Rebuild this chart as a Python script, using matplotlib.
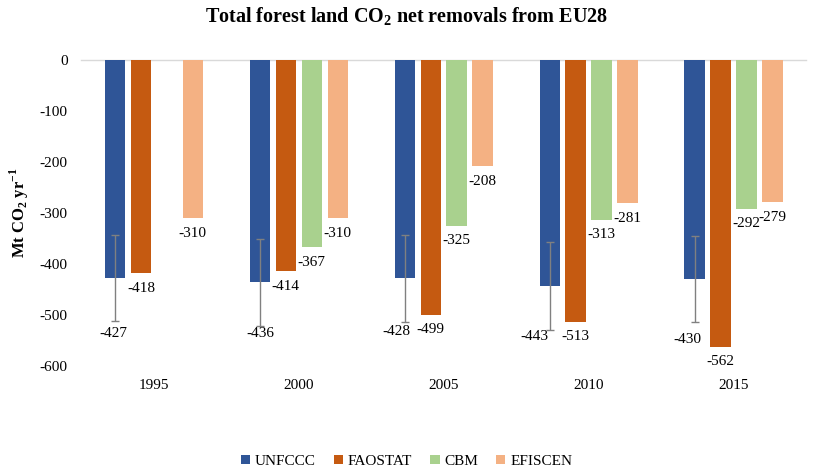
import matplotlib.pyplot as plt
import numpy as np

# data (Mt CO2 / yr)
years = ['1995', '2000', '2005', '2010', '2015']
unfccc = [-427, -436, -428, -443, -430]
faostat = [-418, -414, -499, -513, -562]
cbm = [np.nan, -367, -325, -313, -292]
efiscen = [-310, -310, -208, -281, -279]
unfccc_err = [84, 85, 85, 86, 84]

series_names = ['UNFCCC', 'FAOSTAT', 'CBM', 'EFISCEN']
colors = ['#2F5597', '#C55A11', '#A9D18E', '#F4B183']

plt.rcParams['font.family'] = ['Liberation Serif', 'DejaVu Serif']
plt.rcParams['axes.unicode_minus'] = False
plt.rcParams['mathtext.fontset'] = 'custom'
plt.rcParams['mathtext.rm'] = 'Liberation Serif'
plt.rcParams['mathtext.bf'] = 'Liberation Serif:bold'

fig = plt.figure(figsize=(8.13, 4.73), dpi=100, facecolor='white')
ax = fig.add_axes([0.1002, 0.2262, 0.8912, 0.6469])

x = np.arange(len(years))
width = 0.141
pitch = 0.179
all_series = [unfccc, faostat, cbm, efiscen]

PX = 0.72  # points per pixel at 100 dpi

for i, (vals, name, col) in enumerate(zip(all_series, series_names, colors)):
    pos = x + (i - 1.5) * pitch
    ax.bar(pos, vals, width=width, color=col, label=name, zorder=3)
    if i == 0:
        ax.errorbar(pos, vals, yerr=unfccc_err, fmt='none', ecolor='#808080',
                    elinewidth=1, capsize=3, capthick=1, zorder=4)
        # labels sit under the error bars, nudged a bit
        dx = [-2, 0, -8, -15, -7]
        dy = [13, 8, 10, 7, 17]
        for j, (p, v) in enumerate(zip(pos, vals)):
            ax.annotate(f'{v:d}', xy=(p, v - unfccc_err[j]),
                        xytext=(dx[j] * PX, -dy[j] * PX), textcoords='offset points',
                        ha='center', va='center', fontsize=11, color='black')
    else:
        for p, v in zip(pos, vals):
            if np.isnan(v):
                continue
            ax.annotate(f'{int(v):d}', xy=(p, v), xytext=(0, -15 * PX),
                        textcoords='offset points', ha='center', va='center',
                        fontsize=11, color='black')

ax.set_xlim(-0.5, len(years) - 0.5)
ax.set_ylim(-600, 0)
ax.set_yticks(np.arange(-600, 1, 100))
ax.set_yticklabels([f'{v}' for v in np.arange(-600, 1, 100)], fontsize=11)
ax.set_xticks(x)
ax.set_xticklabels(years, fontsize=11)
ax.tick_params(axis='y', length=0, pad=10)
ax.tick_params(axis='x', length=0, pad=9)

for s in ['left', 'right', 'bottom']:
    ax.spines[s].set_visible(False)
ax.spines['top'].set_color('#D9D9D9')
ax.spines['top'].set_linewidth(1)

ax.set_ylabel(r'Mt CO$_\mathbf{2}$ yr$^{\mathbf{-1}}$', fontsize=12, fontweight='bold', labelpad=6)

fig.text(0.5, 0.965, r'Total forest land CO$_\mathbf{2}$ net removals from EU28',
         ha='center', va='center', fontsize=14.5, fontweight='bold')

fig.legend(loc='center', bbox_to_anchor=(0.5, 0.025), ncol=4, frameon=False,
           fontsize=11, handlelength=0.6, handleheight=0.6, handletextpad=0.3,
           columnspacing=1.2)

fig.savefig('out.png', dpi=100, facecolor='white')
